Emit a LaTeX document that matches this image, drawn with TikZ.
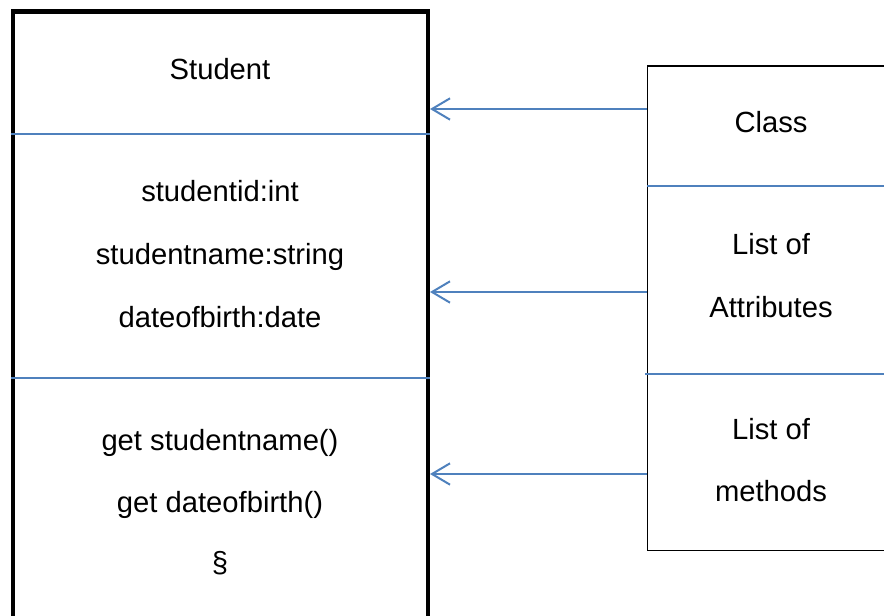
\documentclass[tikz,border=0pt]{standalone}
\usepackage{fontspec}
\setmainfont{Liberation Sans}
\usetikzlibrary{arrows.meta}
\definecolor{divblue}{HTML}{4F81BD}
\tikzset{
  classbox/.style={draw=black, line width=3.4pt, fill=none, anchor=north west, inner sep=0pt},
  legendbox/.style={draw=black, line width=0.8pt, fill=none, anchor=north west, inner sep=0pt},
  divider/.style={draw=divblue, line width=1.5pt},
  conn/.style={draw=divblue, line width=1.5pt, -{Straight Barb[length=13.5pt, width=16pt, line width=1.5pt]}},
  lbl/.style={anchor=base, inner sep=0pt, font=\fontsize{21.9}{26}\selectfont}
}
\begin{document}
\begin{tikzpicture}[x=0.75pt, y=-0.75pt]
\useasboundingbox (0,0) rectangle (884,616);
\clip (0,0) rectangle (884,616);

% UML class box
\node[classbox, minimum width=415*0.75pt, minimum height=606*0.75pt] (cls) at (10.5,9.5) {};
\draw[divider] (cls.west |- 0,134) coordinate (d1l) -- (cls.east |- 0,134) coordinate (d1r);
\draw[divider] (cls.west |- 0,378) coordinate (d2l) -- (cls.east |- 0,378) coordinate (d2r);

\node[lbl] (name)  at (220,80)  {Student};
\node[lbl] (att1)  at (220,202) {studentid:int};
\node[lbl] (att2)  at (220,265) {studentname:string};
\node[lbl] (att3)  at (220,327) {dateofbirth:date};
\node[lbl] (met1)  at (220,450) {get studentname()};
\node[lbl] (met2)  at (220,512) {get dateofbirth()};
\node[lbl] (met3)  at (220,572) {§};

% legend box
\node[legendbox, minimum width=246*0.75pt, minimum height=484*0.75pt] (leg) at (647.2,65.5) {};
\draw[divider] (leg.west |- 0,186) -- (leg.east |- 0,186);
\draw[divider] (645,374) coordinate (d4l) -- (leg.east |- 0,374);

\node[lbl] (lclass) at (771,132.5) {Class};
\node[lbl] (latt1)  at (771,255)   {List of};
\node[lbl] (latt2)  at (771,317)   {Attributes};
\node[lbl] (lmet1)  at (771,439)   {List of};
\node[lbl] (lmet2)  at (771,501)   {methods};

% pointers from legend to compartments
\draw[conn] (leg.west |- 0,109) -- (cls.east |- 0,109);
\draw[conn] (leg.west |- 0,292) -- (cls.east |- 0,292);
\draw[conn] (leg.west |- 0,474) -- (cls.east |- 0,474);
\end{tikzpicture}
\end{document}
